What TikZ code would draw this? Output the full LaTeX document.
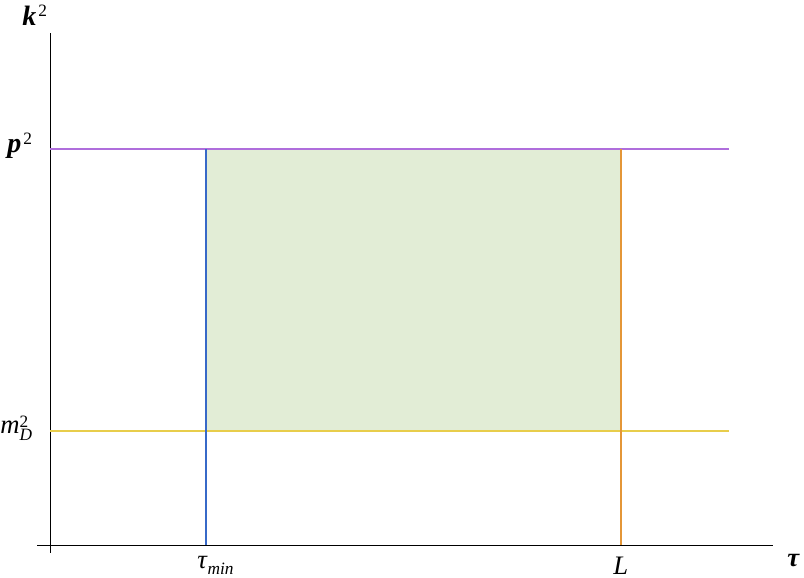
\documentclass[tikz,border=0pt]{standalone}
\usepackage{fontspec}
\setmainfont{Liberation Serif}

\definecolor{linepurple}{RGB}{175,110,220}
\definecolor{lineyellow}{RGB}{232,205,75}
\definecolor{lineblue}{RGB}{55,105,200}
\definecolor{lineorange}{RGB}{228,150,55}
\definecolor{regiongreen}{RGB}{226,237,214}

\newcommand{\supx}[2][6pt]{\raisebox{#1}{\fontsize{13}{13}\selectfont #2}}
\newcommand{\subx}[2][5pt]{\raisebox{-#1}{\fontsize{13}{13}\selectfont\itshape #2}}

\tikzset{
  axisline/.style={line width=0.75pt},
  boundline/.style={line width=1.2pt},
  lbl/.style={inner sep=0pt, anchor=base west, font=\fontsize{20}{24}\selectfont}
}

\begin{document}
\begin{tikzpicture}[x=0.75pt,y=-0.75pt]
        \useasboundingbox (0,0) rectangle (804,578);

        % shaded region
        \fill[regiongreen] (206,149) rectangle (621,431);

        % axes
        \draw[axisline] (50,33) -- (50,553);
        \draw[axisline] (37,545) -- (773,545);

        % bounds
        \draw[boundline, linepurple] (50,149) -- (729,149);
        \draw[boundline, lineyellow] (50,431) -- (729,431);
        \draw[boundline, lineblue] (206,149) -- (206,545);
        \draw[boundline, lineorange] (621,149) -- (621,545);

        % labels
        \node[lbl] (kk) at (22,26) {\fontsize{21}{24}\selectfont\textbf{\textit{k}}\kern1.5pt\supx[7pt]{2}};
        \node[lbl] (pp) at (7,152) {\fontsize{21}{24}\selectfont\textbf{\textit{p}}\kern1.5pt\supx{2}};
        \node[lbl] (md) at (0,433) {\textit{m}\rlap{\supx[4.5pt]{2}}\subx[5.5pt]{D}};
        \node[lbl] (tmin) at (197,568) {\textit{τ}\subx{min}};
        \node[lbl] (ll) at (613,574) {\textit{L}};
        \node[lbl] (tau) at (787,566) {\textbf{\textit{τ}}};
\end{tikzpicture}
\end{document}
